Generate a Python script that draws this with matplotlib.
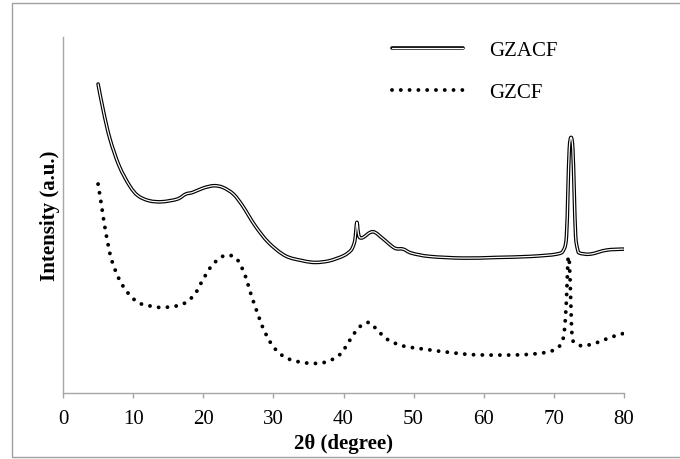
import matplotlib
matplotlib.use("Agg")
import numpy as np
import matplotlib.pyplot as plt
from matplotlib.patches import Rectangle, PathPatch
from matplotlib.path import Path
from matplotlib.lines import Line2D

plt.rcParams['font.family'] = ['Liberation Serif', 'DejaVu Serif']

# GZACF (double line)
gzacf_x = [5.0, 5.8, 6.7, 8.0, 9.5, 10.7, 12.3, 14.1, 16.3, 17.5, 18.5, 20.0, 21.5,
           22.8, 24.3, 25.6, 27.4, 29.3, 31.7, 34.2, 36.0, 38.0, 40.0, 41.0, 41.4,
           41.65, 41.9, 42.1, 42.3, 42.8, 43.8, 44.5, 45.7, 47.3, 48.5, 49.7, 52.3,
           57.1, 61.8, 66.6, 70.4, 71.4, 71.8, 72.0, 72.2, 72.45, 72.7, 72.9, 73.1,
           73.4, 73.7, 75.2, 77.5, 79.9]
gzacf_y = [925, 840, 760, 680, 620, 590, 575, 572, 580, 595, 600, 613, 620,
           615, 595, 560, 500, 450, 410, 395, 390, 395, 410, 425, 440,
           460, 510, 480, 465, 465, 480, 480, 460, 433, 430, 418, 408,
           403, 405, 408, 415, 428, 470, 600, 730, 765, 730, 600, 470,
           428, 418, 415, 427, 430]

# GZCF (dotted line)
gzcf_x = [5.0, 5.5, 6.1, 6.9, 8.0, 9.2, 10.7, 12.3, 14.1, 16.3, 17.5, 18.8, 20.0,
          21.2, 22.5, 23.6, 24.8, 25.9, 26.8, 27.7, 28.6, 29.9, 31.7, 34.2, 36.7,
          38.5, 39.75, 41.0, 42.2, 43.6, 44.7, 46.2, 48.4, 51.5, 55.2, 58.9, 65.1,
          68.8, 70.6, 71.4, 71.8, 72.0, 72.2, 72.4, 72.6, 73.1, 74.3, 76.2, 78.0, 79.9]
gzcf_y = [625, 560, 480, 400, 340, 300, 270, 260, 255, 260, 270, 295, 340,
          380, 405, 412, 400, 355, 295, 240, 190, 140, 105, 90, 88,
          100, 120, 160, 195, 210, 190, 160, 140, 130, 120, 113, 113,
          120, 135, 170, 280, 395, 395, 280, 170, 147, 140, 150, 165, 177]

series_labels = ['GZACF', 'GZCF']
xticks = [0, 10, 20, 30, 40, 50, 60, 70, 80]


def smooth_path(xs, ys):
    """Excel-like smoothed line: cubic Bezier through the data points."""
    p = np.column_stack([xs, ys]).astype(float)
    n = len(p)
    verts = [p[0]]
    codes = [Path.MOVETO]
    for i in range(n - 1):
        p0 = p[i - 1] if i > 0 else p[i]
        p1 = p[i]
        p2 = p[i + 1]
        p3 = p[i + 2] if i + 2 < n else p[i + 1]
        c1 = p1 + (p2 - p0) / 6.0
        c2 = p2 - (p3 - p1) / 6.0
        verts += [c1, c2, p2]
        codes += [Path.CURVE4] * 3
    return Path(np.array(verts), codes)


DOT = (0, (0.01, 2.25))

fig = plt.figure(figsize=(6.8, 4.6), dpi=100)
ax = fig.add_axes([63/680, 1 - 393.5/460, (624 - 63)/680, (393.5 - 38)/460])

path_a = smooth_path(gzacf_x, gzacf_y)
path_b = smooth_path(gzcf_x, gzcf_y)
ax.add_patch(PathPatch(path_a, fill=False, edgecolor='black', lw=2.6,
                       capstyle='round', joinstyle='round'))
ax.add_patch(PathPatch(path_a, fill=False, edgecolor='white', lw=0.9,
                       capstyle='round', joinstyle='round'))
ax.add_patch(PathPatch(path_b, fill=False, edgecolor='black', lw=2.8,
                       linestyle=DOT, capstyle='round'))

ax.set_xlim(0, 80)
ax.set_ylim(0, 1066)
ax.set_xticks(xticks)
ax.set_xticklabels([str(t) for t in xticks])
ax.set_yticks([])
for s in ['top', 'right']:
    ax.spines[s].set_visible(False)
for s in ['left', 'bottom']:
    ax.spines[s].set_color('#a6a6a6')
    ax.spines[s].set_linewidth(1.0)
ax.tick_params(axis='x', direction='out', length=3.6, width=1.0, color='#a6a6a6',
               labelsize=15, labelcolor='black', pad=8)
ax.set_xlabel('2θ (degree)', fontsize=15, fontweight='bold', labelpad=4)
ax.set_ylabel('Intensity (a.u.)', fontsize=15, fontweight='bold', labelpad=2)

h1 = Line2D([], [], color='black', lw=2.6, solid_capstyle='round')
h2 = Line2D([], [], color='white', lw=0.9, solid_capstyle='round')
h3 = Line2D([], [], color='black', lw=2.8, linestyle=DOT, dash_capstyle='round')
leg = ax.legend([(h1, h2), h3], series_labels, loc='upper left',
                bbox_to_anchor=(384/680, 1 - 33/460), bbox_transform=fig.transFigure,
                frameon=False, fontsize=15, handlelength=3.4, handletextpad=1.25,
                labelspacing=1.1, borderaxespad=0)

fig.patches.append(Rectangle((12/680, 2.5/460), 1.1, 1 - 6.5/460, transform=fig.transFigure,
                             fill=False, edgecolor='#a0a0a0', lw=1.0))

fig.savefig('out.png', dpi=100)
